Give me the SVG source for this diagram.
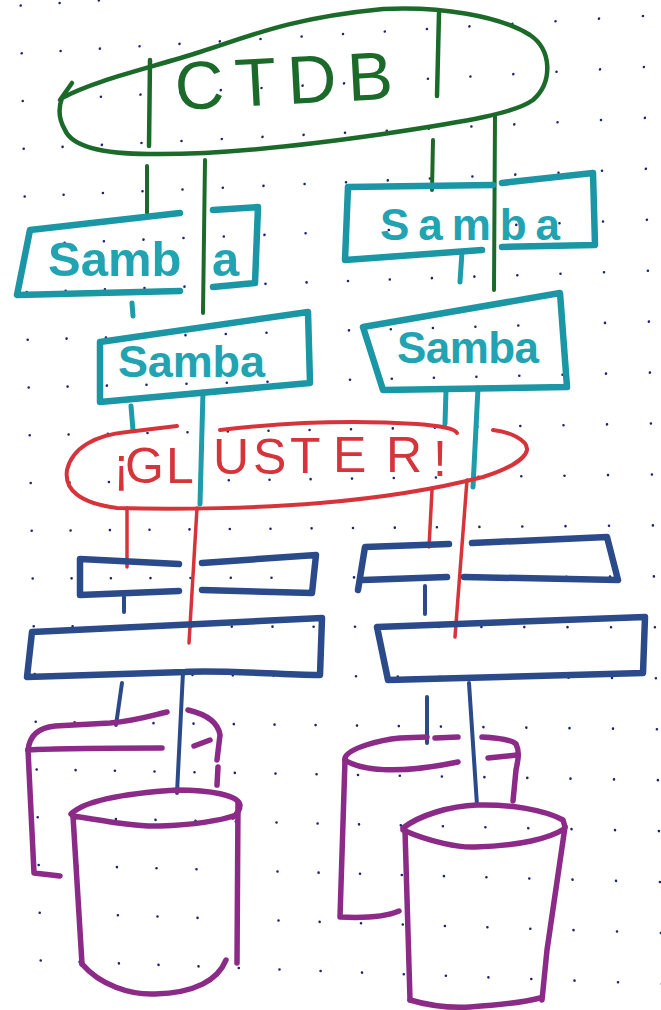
<svg xmlns="http://www.w3.org/2000/svg" xmlns:xlink="http://www.w3.org/1999/xlink" width="661" height="1010" viewBox="0 0 661 1010">
  <defs>
    <style>
      .ink { fill: none; stroke-linecap: round; stroke-linejoin: round; }
      .green { stroke: #1c6a2a; stroke-width: 4.5; }
      .teal { stroke: #1b96a4; stroke-width: 6.5; }
      .red { stroke: #d6343b; stroke-width: 4; }
      .navy { stroke: #2b4a8a; stroke-width: 6.5; }
      .purple { stroke: #8c2a88; stroke-width: 5.5; }
      .thin-green { stroke: #1c6a2a; stroke-width: 4; }
      .thin-teal { stroke: #1e9cab; stroke-width: 5; }
      .thin-red { stroke: #d6343b; stroke-width: 3.5; }
      .thin-navy { stroke: #2b4a8a; stroke-width: 4; }
      .label { font-family: "Liberation Sans", Arial, sans-serif; }
      .samba { fill: #22a3b2; font-weight: bold; }
      .dots { fill: none; stroke: #1c2570; stroke-width: 2.6; stroke-linecap: round; }
    </style>
    <!-- one row of grid dots, column 8 at the origin -->
    <path id="dotrow" class="dots" d="M-321.3,0h0M-282.4,0h0M-243.1,0h0M-203.5,0h0M-163.5,0h0M-123.2,0h0M-82.5,0h0M-41.4,0h0M0,0h0M41.8,0h0M83.9,0h0M126.4,0h0M169.3,0h0M212.5,0h0M256,0h0M299.9,0h0"/>
  </defs>

  <rect width="661" height="1010" fill="#ffffff"/>

  <!-- dotted paper -->
  <g id="paper-grid">
    <use xlink:href="#dotrow" transform="matrix(1 -0.0652 0 1 342 -15.4)"/>
    <use xlink:href="#dotrow" transform="matrix(1 -0.0601 0 1 343 34)"/>
    <use xlink:href="#dotrow" transform="matrix(1 -0.0549 0 1 344 83.4)"/>
    <use xlink:href="#dotrow" transform="matrix(1 -0.0498 0 1 345 132.8)"/>
    <use xlink:href="#dotrow" transform="matrix(1 -0.0446 0 1 346 182.2)"/>
    <use xlink:href="#dotrow" transform="matrix(1 -0.0395 0 1 347 231.6)"/>
    <use xlink:href="#dotrow" transform="matrix(1 -0.0343 0 1 348 281)"/>
    <use xlink:href="#dotrow" transform="matrix(1 -0.0292 0 1 349 330.4)"/>
    <use xlink:href="#dotrow" transform="matrix(1 -0.0240 0 1 350 379.8)"/>
    <use xlink:href="#dotrow" transform="matrix(1 -0.0189 0 1 351 429.2)"/>
    <use xlink:href="#dotrow" transform="matrix(1 -0.0137 0 1 352 478.6)"/>
    <use xlink:href="#dotrow" transform="matrix(1 -0.0086 0 1 353 528)"/>
    <use xlink:href="#dotrow" transform="matrix(1 -0.0034 0 1 354 577.4)"/>
    <use xlink:href="#dotrow" transform="matrix(1 0.0017 0 1 355 626.8)"/>
    <use xlink:href="#dotrow" transform="matrix(1 0.0069 0 1 356 676.2)"/>
    <use xlink:href="#dotrow" transform="matrix(1 0.0120 0 1 357 725.6)"/>
    <use xlink:href="#dotrow" transform="matrix(1 0.0172 0 1 358 775)"/>
    <use xlink:href="#dotrow" transform="matrix(1 0.0223 0 1 359 824.4)"/>
    <use xlink:href="#dotrow" transform="matrix(1 0.0275 0 1 360 873.8)"/>
    <use xlink:href="#dotrow" transform="matrix(1 0.0326 0 1 361 923.2)"/>
    <use xlink:href="#dotrow" transform="matrix(1 0.0378 0 1 362 972.6)"/>
  </g>

  <!-- connectors between layers -->
  <g id="connectors" class="ink">
    <path class="thin-green" d="M147,166 L147,213"/>
    <path class="thin-green" d="M205,160 L203,313"/>
    <path class="thin-green" d="M433,140 L432,190"/>
    <path class="thin-green" d="M495,116 L494,290"/>
    <path class="thin-teal" d="M132,303 L133,316"/>
    <path class="thin-teal" d="M462,252 L460,282"/>
    <path class="thin-teal" d="M131,406 L133,430"/>
    <path class="thin-teal" d="M203,392 L200,504"/>
    <path class="thin-teal" d="M446,390 L445,424"/>
    <path class="thin-teal" d="M478,388 L473,487"/>
    <path class="thin-red" d="M127,508 L127,567"/>
    <path class="thin-red" d="M197,508 L189,643"/>
    <path class="thin-red" d="M432,490 L429,547"/>
    <path class="thin-red" d="M467,480 L455,637"/>
    <path class="thin-navy" d="M124,597 L124,612"/>
    <path class="thin-navy" d="M425,586 L425,614"/>
    <path class="thin-navy" d="M122,683 L116,725"/>
    <path class="thin-navy" d="M183,672 L177,793"/>
    <path class="thin-navy" d="M427,697 L427,743"/>
    <path class="thin-navy" d="M469,683 L477,805"/>
  </g>

  <!-- CTDB layer -->
  <g id="ctdb" class="ink">
    <path class="green" d="M62,98 C95,80 150,68 200,52 C250,36 290,18 383,9 C440,6 500,16 530,35 C552,50 553,82 533,100 C515,113 470,121 383,134 C300,146 220,155 150,154 C100,154 72,146 65,130 C58,118 59,106 62,98"/>
    <path class="green" d="M60,100 L72,83"/>
    <path class="green" d="M150,60 L149,146"/>
    <path class="green" d="M439,13 L437,96"/>
    <text class="label" x="176" y="110" font-size="68" fill="#1c6a2a" textLength="218" lengthAdjust="spacing" transform="rotate(-3 176 110)">CTDB</text>
  </g>

  <!-- Samba nodes -->
  <g id="samba-left-top" class="ink">
    <path class="teal" d="M180,213 L30,230 L17,295 L180,291"/>
    <path class="teal" d="M213,210 L258,207 L255,283 L213,287"/>
    <text class="label samba" x="48" y="276" font-size="49">Samb<tspan x="212">a</tspan></text>
  </g>

  <g id="samba-left-bottom" class="ink">
    <path class="teal" d="M100,342 L308,312 L310,383 L100,402 Z"/>
    <text class="label samba" x="118" y="377" font-size="45" textLength="147" lengthAdjust="spacing">Samba</text>
  </g>

  <g id="samba-right-top" class="ink">
    <path class="teal" d="M493,185 L348,187 L345,260 L482,250"/>
    <path class="teal" d="M502,183 L593,173 L595,245 L502,247"/>
    <text class="label samba" x="380" y="240" font-size="44" textLength="180" lengthAdjust="spacing">Samba</text>
  </g>

  <g id="samba-right-bottom" class="ink">
    <path class="teal" d="M363,327 L560,293 L567,387 L383,390 Z"/>
    <text class="label samba" x="397" y="363" font-size="44" textLength="142" lengthAdjust="spacing">Samba</text>
  </g>

  <!-- GlusterFS layer -->
  <g id="gluster" class="ink">
    <path class="red" d="M177,426 L127,432 C95,435 72,448 67,470 C64,490 80,503 117,508 C180,510 260,508 320,503 C380,498 440,488 483,477 C505,470 525,460 527,450 C528,440 510,432 493,430"/>
    <path class="red" d="M220,430 C280,423 350,420 417,424 C440,426 455,428 457,433"/>
    <text class="label" font-size="50" fill="#d6343b" x="113 125 166 213 253 290 333 386 433" y="483 483 483 474 474 473 472 472 476">¡GLUSTER!</text>
  </g>

  <!-- left brick stack -->
  <g id="brick-left-upper" class="ink">
    <path class="navy" d="M179,564 L80,559 L80,595 L179,591"/>
    <path class="navy" d="M202,563 L316,555 L312,593 L202,590"/>
  </g>
  <g id="brick-left-lower" class="ink">
    <path class="navy" d="M32,632 L322,618 L320,675 C270,674 220,670 185,672 C120,674 60,676 27,677 Z"/>
  </g>

  <!-- right brick stack -->
  <g id="brick-right-upper" class="ink">
    <path class="navy" d="M449,544 L365,547 L358,590"/>
    <path class="navy" d="M363,580 L447,577"/>
    <path class="navy" d="M472,543 L607,537 L618,580 L464,577"/>
  </g>
  <g id="brick-right-lower" class="ink">
    <path class="navy" d="M377,627 L645,617 L643,673 L388,680 Z"/>
  </g>

  <!-- disks -->
  <g id="disk-left-back" class="ink">
    <path class="purple" d="M28,750 C30,735 38,728 55,726 L110,723 C135,721 150,716 167,712"/>
    <path class="purple" d="M28,750 C60,748 120,748 162,748"/>
    <path class="purple" d="M188,710 C205,714 218,722 220,735 L217,760 M218,767 L217,785"/>
    <path class="purple" d="M194,746 L210,740"/>
    <path class="purple" d="M28,750 L34,873 L60,876"/>
  </g>
  <g id="disk-left-front" class="ink">
    <path class="purple" d="M71,814 C85,800 130,793 177,790 C210,790 238,795 240,805 C240,810 237,814 233,817"/>
    <path class="purple" d="M73,816 C110,822 140,827 160,826 C195,825 222,820 233,816"/>
    <path class="purple" d="M73,816 L82,964"/>
    <path class="purple" d="M238,802 L237,963"/>
    <path class="purple" d="M82,964 C100,985 130,995 155,994 C195,993 218,980 226,960"/>
  </g>
  <g id="disk-right-back" class="ink">
    <path class="purple" d="M345,758 C348,748 380,740 400,738 L427,737 M435,738 L458,737"/>
    <path class="purple" d="M482,737 C500,738 512,740 516,744 C520,752 518,760 516,770 L513,801"/>
    <path class="purple" d="M345,760 C360,770 395,775 458,762"/>
    <path class="purple" d="M488,758 L517,755"/>
    <path class="purple" d="M345,760 L340,917 C360,918 385,917 399,911"/>
  </g>
  <g id="disk-right-front" class="ink">
    <path class="purple" d="M403,828 C420,815 450,806 477,805 C510,804 545,810 563,820 L565,827"/>
    <path class="purple" d="M403,830 C430,842 460,848 475,847 C520,846 550,838 564,829"/>
    <path class="purple" d="M405,830 L410,1000"/>
    <path class="purple" d="M565,827 L547,950 L542,1000"/>
    <path class="purple" d="M410,1000 C430,1006 450,1008 470,1007 C500,1005 525,1002 540,998"/>
  </g>
</svg>
